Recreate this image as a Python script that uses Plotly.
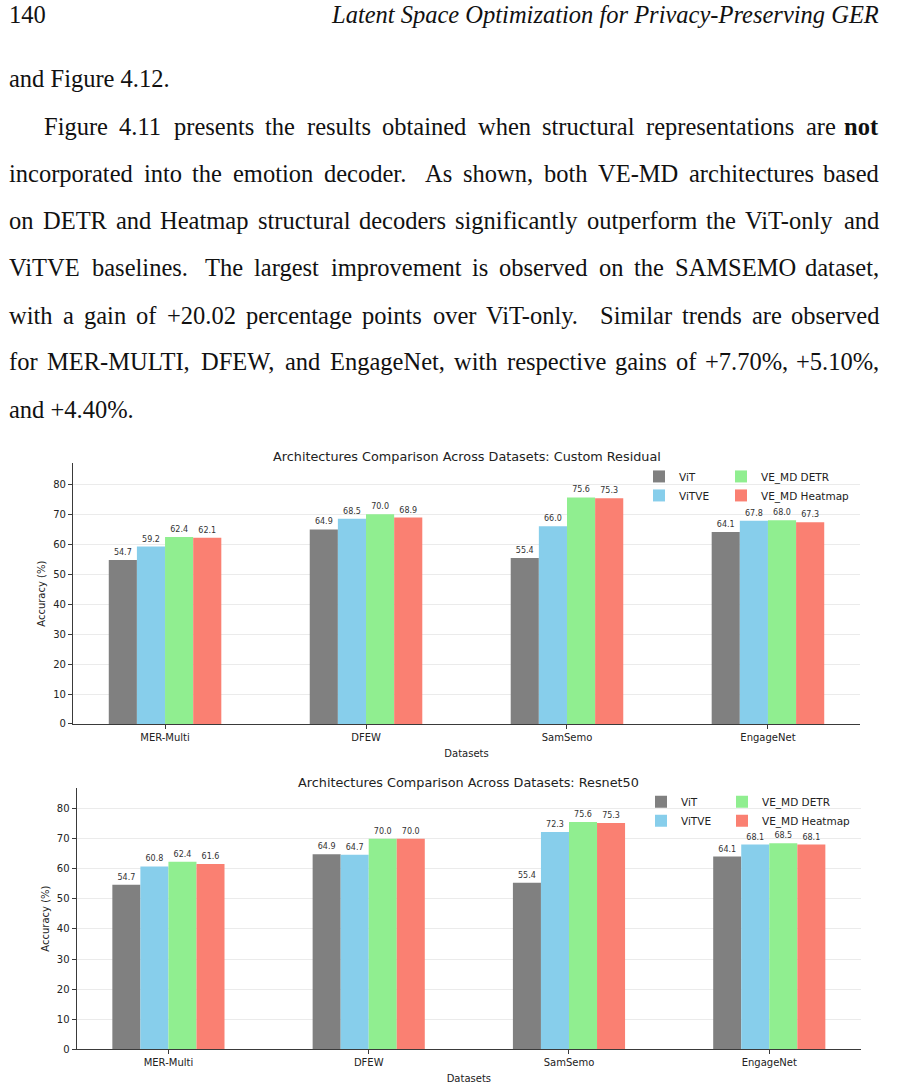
import re
import plotly.graph_objects as go

# ---------------- data ----------------
datasets = ["MER-Multi", "DFEW", "SamSemo", "EngageNet"]
models = ["ViT", "ViTVE", "VE_MD DETR", "VE_MD Heatmap"]
colors = ["#808080", "#87CEEB", "#90EE90", "#FA8072"]

residual_vit = [54.7, 64.9, 55.4, 64.1]
residual_vitve = [59.2, 68.5, 66.0, 67.8]
residual_detr = [62.4, 70.0, 75.6, 68.0]
residual_heatmap = [62.1, 68.9, 75.3, 67.3]

resnet_vit = [54.7, 64.9, 55.4, 64.1]
resnet_vitve = [60.8, 64.7, 72.3, 68.1]
resnet_detr = [62.4, 70.0, 75.6, 68.5]
resnet_heatmap = [61.6, 70.0, 75.3, 68.1]

chart_titles = [
    "Architectures Comparison Across Datasets: Custom Residual",
    "Architectures Comparison Across Datasets: Resnet50",
]
x_title = "Datasets"
y_title = "Accuracy (%)"
y_ticks = [0, 10, 20, 30, 40, 50, 60, 70, 80]

page_number = "140"
running_head = "Latent Space Optimization for Privacy-Preserving GER"
body_lines = [
    "and Figure 4.12.",
    "Figure 4.11 presents the results obtained when structural representations are **not**",
    "incorporated into the emotion decoder.  As shown, both VE-MD architectures based",
    "on DETR and Heatmap structural decoders significantly outperform the ViT-only and",
    "ViTVE baselines.  The largest improvement is observed on the SAMSEMO dataset,",
    "with a gain of +20.02 percentage points over ViT-only.  Similar trends are observed",
    "for MER-MULTI, DFEW, and EngageNet, with respective gains of +7.70%, +5.10%,",
    "and +4.40%.",
]
line_justified = [False, True, True, True, True, True, True, False]
line_indent = [8, 43, 8, 8, 8, 8, 8, 8]
line_center_y = [79, 127, 174, 222, 269, 317, 364, 412]

# ---------------- page geometry ----------------
W, H = 899, 1089
TEXT_RIGHT = 880
FS = 24.5
SERIF = "Liberation Serif, Times New Roman, serif"
SANS = "DejaVu Sans, sans-serif"


def px(x):
    return x / W


def py(y):
    return 1 - y / H


# Times / Liberation Serif advance widths (1/1000 em)
TW = {' ': 250, '!': 333, '%': 833, '(': 333, ')': 333, '+': 564, ',': 250, '-': 333,
      '.': 250, ':': 278, ';': 278, '_': 500,
      'A': 722, 'B': 667, 'C': 667, 'D': 722, 'E': 611, 'F': 556, 'G': 722, 'H': 722,
      'I': 333, 'J': 389, 'K': 722, 'L': 611, 'M': 889, 'N': 722, 'O': 722, 'P': 556,
      'Q': 722, 'R': 667, 'S': 556, 'T': 611, 'U': 722, 'V': 722, 'W': 944, 'X': 722,
      'Y': 722, 'Z': 611,
      'a': 444, 'b': 500, 'c': 444, 'd': 500, 'e': 444, 'f': 333, 'g': 500, 'h': 500,
      'i': 278, 'j': 278, 'k': 500, 'l': 278, 'm': 778, 'n': 500, 'o': 500, 'p': 500,
      'q': 500, 'r': 333, 's': 389, 't': 278, 'u': 500, 'v': 500, 'w': 722, 'x': 500,
      'y': 500, 'z': 444}
BOLD = {'n': 556, 'o': 500, 't': 333}


def word_width(w, bold=False):
    tot = 0
    for c in w:
        if bold and c in BOLD:
            tot += BOLD[c]
        else:
            tot += TW.get(c, 500)
    return tot * FS / 1000.0


annotations = []


def add_text(x, y, text, xanchor="left", size=FS, family=SERIF, color="#111"):
    annotations.append(dict(
        x=px(x), y=py(y), xref="paper", yref="paper", text=text, showarrow=False,
        xanchor=xanchor, yanchor="middle", borderpad=0,
        font=dict(family=family, size=size, color=color)))


# running head
add_text(8, 15, page_number)
add_text(TEXT_RIGHT, 15, "<i>" + running_head + "</i>", xanchor="right")

# body paragraph lines
for line, just, ind, yc in zip(body_lines, line_justified, line_indent, line_center_y):
    if not just:
        add_text(ind, yc, line.replace("**", ""))
        continue
    parts = re.split(r"( +)", line)
    words = parts[0::2]
    gaps = [1.6 if len(g) > 1 else 1.0 for g in parts[1::2]]
    bolds = [w.startswith("**") for w in words]
    words = [w.replace("**", "") for w in words]
    widths = [word_width(w, b) for w, b in zip(words, bolds)]
    avail = TEXT_RIGHT - ind
    unit = (avail - sum(widths)) / sum(gaps)
    x = ind
    for i, (w, b) in enumerate(zip(words, bolds)):
        txt = "<b>%s</b>" % w if b else w
        if i == len(words) - 1:
            add_text(TEXT_RIGHT, yc, txt, xanchor="right")
        else:
            add_text(x, yc, txt)
            x += widths[i] + unit * gaps[i]

# ---------------- charts ----------------
charts = [
    dict(vals=[residual_vit, residual_vitve, residual_detr, residual_heatmap],
         box=(73, 860, 466, 728), xa="x", ya="y",
         legends=["legend", "legend", "legend2", "legend2"]),
    dict(vals=[resnet_vit, resnet_vitve, resnet_detr, resnet_heatmap],
         box=(76.7, 861, 792.3, 1055), xa="x2", ya="y2",
         legends=["legend3", "legend3", "legend4", "legend4"]),
]

fig = go.Figure()
ymax = max(max(v) for c in charts for v in c["vals"]) * 1.15

for ci, ch in enumerate(charts):
    for name, col, vals, lg in zip(models, colors, ch["vals"], ch["legends"]):
        fig.add_trace(go.Bar(
            x=datasets, y=vals, name=name, marker=dict(color=col, line=dict(width=0)),
            xaxis=ch["xa"], yaxis=ch["ya"], legend=lg,
            texttemplate="%{y:.1f}", textposition="outside", constraintext="none",
            textfont=dict(family=SANS, size=8, color="#333"), cliponaxis=False,
        ))
    l, r, t, b = ch["box"]
    sfx = "" if ci == 0 else "2"
    fig.layout["xaxis" + sfx] = dict(
        domain=[px(l), px(r)], anchor="y" + sfx, type="category",
        range=[-0.458, len(datasets) - 1 + 0.458],
        showline=True, linecolor="#3a3a3a", linewidth=1.2, mirror=False,
        ticks="outside", ticklen=4, tickcolor="#3a3a3a", showgrid=False,
        tickfont=dict(family=SANS, size=10, color="#222"),
        title=dict(text=x_title, font=dict(family=SANS, size=10, color="#222"), standoff=7),
        fixedrange=True,
    )
    fig.layout["yaxis" + sfx] = dict(
        domain=[py(b), py(t)], anchor="x" + sfx, range=[0, ymax],
        tickvals=y_ticks, showline=True, linecolor="#3a3a3a", linewidth=1.2,
        ticks="outside", ticklen=4, tickcolor="#3a3a3a",
        showgrid=True, gridcolor="#ebebeb", gridwidth=1, zeroline=False,
        tickfont=dict(family=SANS, size=10, color="#222"),
        title=dict(text=y_title, font=dict(family=SANS, size=10, color="#222"), standoff=5),
        fixedrange=True,
    )
    add_text((l + r) / 2, t - (6.5 if ci == 0 else 5.5), chart_titles[ci], xanchor="center",
             size=12.8, family=SANS, color="#222")

legend_common = dict(xanchor="left", yanchor="top", bgcolor="rgba(0,0,0,0)",
                     font=dict(family=SANS, size=10.5, color="#222"), borderwidth=0)
fig.update_layout(
    width=W, height=H, margin=dict(l=0, r=0, t=0, b=0),
    paper_bgcolor="white", plot_bgcolor="white",
    barmode="group", bargap=0.44, bargroupgap=0,
    annotations=annotations,
    legend=dict(x=px(639), y=py(464.5), **legend_common),
    legend2=dict(x=px(721), y=py(464.5), **legend_common),
    legend3=dict(x=px(641), y=py(791.5), **legend_common),
    legend4=dict(x=px(722), y=py(791.5), **legend_common),
)

fig.write_html("out.html", config={"displayModeBar": False},
               post_script="document.body.style.margin='0';")
